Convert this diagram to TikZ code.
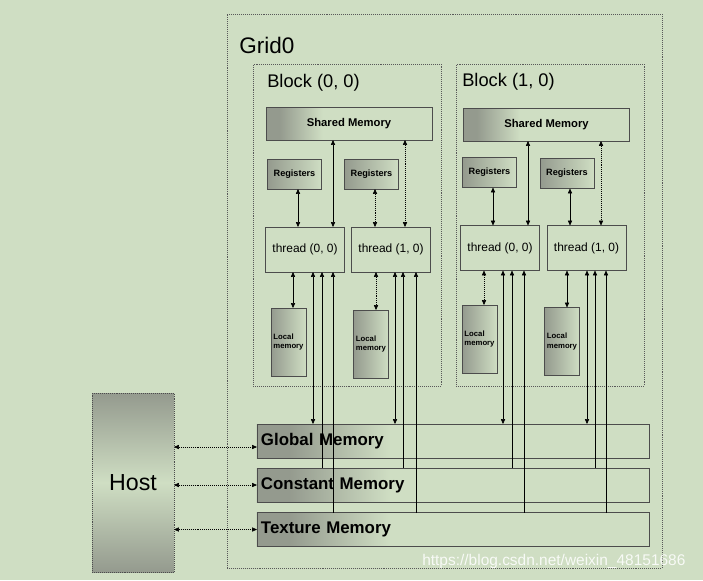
\documentclass[tikz,border=0pt]{standalone}
\usepackage{fontspec}
\setmainfont{Liberation Sans}
\usetikzlibrary{arrows.meta,shapes,positioning}

\definecolor{bgc}{RGB}{207,222,195}
\definecolor{shd}{RGB}{148,154,142}
\newlength\pxl
\setlength\pxl{0.025cm}
\pgfdeclarehorizontalshading{memfade}{100bp}{color(0bp)=(shd); color(29bp)=(shd); color(42bp)=(bgc); color(100bp)=(bgc)}

\begin{document}
\begin{tikzpicture}[x=0.025cm, y=-0.025cm,
		>={Triangle[length=3.5pt,width=3pt]},
		frame/.style={draw=black!65, densely dotted, inner sep=0pt, outer sep=0pt},
		box/.style={draw=black!70, line width=.4pt, inner sep=0pt, outer sep=0pt},
		lbl/.style={anchor=west, inner sep=0pt},
		shared/.style={box, shading=memfade, minimum width=166*\pxl, minimum height=33*\pxl, font=\fontsize{8}{9}\selectfont\bfseries},
		reg/.style={box, left color=shd, right color=bgc, minimum width=54*\pxl, minimum height=30*\pxl, font=\fontsize{6.5}{7}\selectfont\bfseries},
		thr/.style={box, minimum width=79*\pxl, minimum height=45*\pxl, font=\fontsize{8.5}{10}\selectfont},
		loc/.style={box, left color=shd, right color=bgc, minimum width=35*\pxl, minimum height=68*\pxl, align=left, font=\fontsize{5.5}{6.5}\selectfont\bfseries},
		mem/.style={box, shading=memfade, text width=9.6cm, inner xsep=0.1cm, minimum height=34*\pxl, align=left, font=\fontsize{12}{14}\selectfont\bfseries},
		link/.style={<->, line width=.4pt},
		dlink/.style={link, densely dotted}]
	\fill [bgc] (0,0) rectangle (703,580);
	\useasboundingbox (0,0) rectangle (703,580);

	% grid and blocks
	\node (grid) at (444.5,291) [frame, minimum width=435*\pxl, minimum height=554*\pxl] {};
	\node (gridlbl) at (239,45) [lbl, font=\fontsize{16}{18}\selectfont] {Grid0};
	\node (blkA) at (347,225) [frame, minimum width=188*\pxl, minimum height=322*\pxl] {};
	\node (blkB) at (550,225) [frame, minimum width=188*\pxl, minimum height=322*\pxl] {};
	\node (blkAlbl) at (267,83) [lbl, font=\fontsize{13}{15}\selectfont] {Block (0, 0)};
	\node (blkBlbl) at (462,82) [lbl, font=\fontsize{13}{15}\selectfont] {Block (1, 0)};

	% block (0,0)
	\node (shA) at (349,123.5) [shared] {Shared Memory};
	\node (regA0) at (294.5,174) [reg] {Registers};
	\node (regA1) at (371.5,174) [reg] {Registers};
	\node (thrA0) at (305,249.5) [thr] {thread (0, 0)};
	\node (thrA1) at (391,249.5) [thr] {thread (1, 0)};
	\node (locA0) at (288.5,342) [loc] {Local\\memory};
	\node (locA1) at (371,344) [loc] {Local\\memory};

	% block (1,0)
	\node (shB) at (546.5,124.5) [shared] {Shared Memory};
	\node (regB0) at (489.5,172.5) [reg] {Registers};
	\node (regB1) at (567,173.5) [reg] {Registers};
	\node (thrB0) at (500,248) [thr] {thread (0, 0)};
	\node (thrB1) at (586.5,248) [thr] {thread (1, 0)};
	\node (locB0) at (479.5,339) [loc] {Local\\memory};
	\node (locB1) at (562,341.5) [loc] {Local\\memory};

	% memories and host
	\node (glob) at (453,441) [mem] {Global Memory};
	\node (cons) at (453,485) [mem] {Constant Memory};
	\node (tex) at (453,529.5) [mem] {Texture Memory};
	\node (host) at (133,482.5) [box, densely dotted, top color=shd, bottom color=shd, middle color=bgc, minimum width=82*\pxl, minimum height=179*\pxl, font=\fontsize{16.5}{18}\selectfont] {Host};

	\draw [dlink] (host.east |- 0,447) -- (glob.west |- 0,447);
	\draw [dlink] (host.east |- cons.west) -- (cons.west);
	\draw [dlink] (host.east |- tex.west) -- (tex.west);

	% registers, shared and local memory
	\draw [link] (298,0 |- regA0.south) -- (298,0 |- thrA0.north);
	\draw [link] (333,0 |- shA.south) -- (333,0 |- thrA0.north);
	\draw [dlink] (375,0 |- regA1.south) -- (375,0 |- thrA1.north);
	\draw [dlink] (405,0 |- shA.south) -- (405,0 |- thrA1.north);
	\draw [link] (293,0 |- thrA0.south) -- (293,0 |- locA0.north);
	\draw [dlink] (376,0 |- thrA1.south) -- (376,0 |- locA1.north);

	\draw [link] (493,0 |- regB0.south) -- (493,0 |- thrB0.north);
	\draw [link] (528,0 |- shB.south) -- (528,0 |- thrB0.north);
	\draw [link] (570,0 |- regB1.south) -- (570,0 |- thrB1.north);
	\draw [dlink] (601,0 |- shB.south) -- (601,0 |- thrB1.north);
	\draw [dlink] (484,0 |- thrB0.south) -- (484,0 |- locB0.north);
	\draw [link] (567,0 |- thrB1.south) -- (567,0 |- locB1.north);

	% global, constant and texture memory
	\foreach \x/\t in {313/thrA0, 395/thrA1, 503/thrB0, 587/thrB1}
		\draw [link] (\x,0 |- glob.north) -- (\x,0 |- \t.south);
	\foreach \x/\t in {322/thrA0, 403/thrA1, 512/thrB0, 595/thrB1}
		\draw [->, line width=.4pt] (\x,0 |- cons.north) -- (\x,0 |- \t.south);
	\foreach \x/\t in {333/thrA0, 416/thrA1, 524/thrB0, 606/thrB1}
		\draw [->, line width=.4pt] (\x,0 |- tex.north) -- (\x,0 |- \t.south);

	\node (mark) at (422,561) [lbl, text=white, opacity=.85, font=\fontsize{11}{13}\selectfont] {https://blog.csdn.net/weixin\_48151686};
\end{tikzpicture}
\end{document}
